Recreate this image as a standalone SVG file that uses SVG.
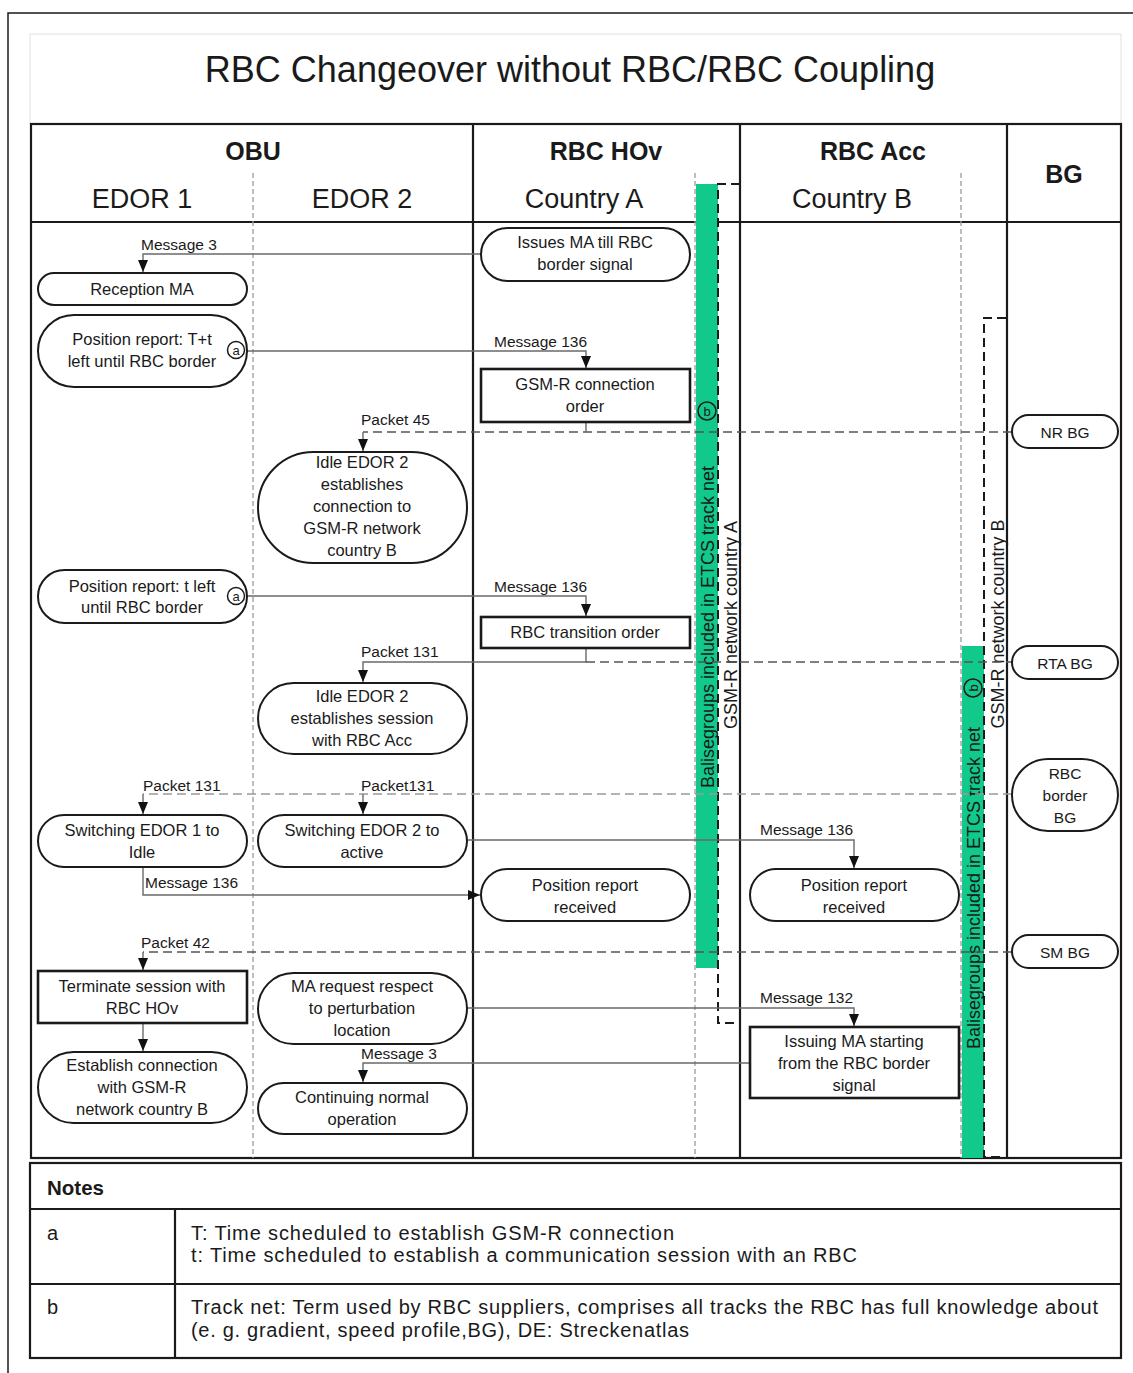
<svg xmlns="http://www.w3.org/2000/svg" width="1133" height="1373" viewBox="0 0 1133 1373">
<style>
text{font-family:"Liberation Sans",Arial,sans-serif;fill:#1a1a1a}
.title{font-size:36px;text-anchor:middle}
.hb{font-size:25px;font-weight:bold;text-anchor:middle}
.hr{font-size:27px;text-anchor:middle}
.nt{font-size:16.5px;text-anchor:middle}
.bgt{font-size:15.5px;text-anchor:middle}
.lb{font-size:15.5px}
.vt{font-size:18px;text-anchor:middle}
.note{font-size:20px}
.noteh{font-size:20.5px;font-weight:bold}
.ci{font-size:13px;text-anchor:middle}
.grid{fill:none;stroke:#1a1a1a;stroke-width:2.2}
.lane{fill:none;stroke:#9a9a9a;stroke-width:1.3;stroke-dasharray:5 3}
.green{fill:#10c98a}
.brk{fill:none;stroke:#1a1a1a;stroke-width:2;stroke-dasharray:9 5}
.pill{fill:#fff;stroke:#1a1a1a;stroke-width:2}
.box{fill:#fff;stroke:#1a1a1a;stroke-width:2.6}
.msg{fill:none;stroke:#6a6a6a;stroke-width:1.4}
.bgd{fill:none;stroke:#555;stroke-width:1.6;stroke-dasharray:9 5}
.bgl{fill:none;stroke:#9a9a9a;stroke-width:1.6;stroke-dasharray:9 5}
.circ{fill:#fff;stroke:#1a1a1a;stroke-width:1.5}
.circg{fill:none;stroke:#1a1a1a;stroke-width:1.5}
</style>
<defs>
<marker id="ah" markerWidth="12" markerHeight="10" refX="12" refY="5" orient="auto" markerUnits="userSpaceOnUse">
<path d="M0,0 L12,5 L0,10 z" fill="#111"/>
</marker>
</defs>
<rect width="1133" height="1373" fill="#fff"/>
<path d="M8,1373 V13 H1133" fill="none" stroke="#1a1a1a" stroke-width="1.5"/>

<g id="title">
<rect x="30" y="34" width="1091" height="90" fill="none" stroke="#e2e2e2" stroke-width="1"/>
<text class="title" x="570" y="82">RBC Changeover without RBC/RBC Coupling</text>
</g>

<g id="swimlanes">
<rect class="grid" x="31" y="124" width="1090" height="1034"/>
<path class="grid" d="M31,222 H1121 M473,124 V1158 M740,124 V1158 M1007,124 V1158"/>
<path class="lane" d="M253,173 V1158 M695,173 V1158 M961,173 V1158"/>
<text class="hb" x="253" y="160">OBU</text>
<text class="hb" x="606" y="160">RBC HOv</text>
<text class="hb" x="873" y="160">RBC Acc</text>
<text class="hb" x="1064" y="183">BG</text>
<text class="hr" x="142" y="208">EDOR 1</text>
<text class="hr" x="362" y="208">EDOR 2</text>
<text class="hr" x="584" y="208">Country A</text>
<text class="hr" x="852" y="208">Country B</text>
</g>

<g id="trackNetA">
<rect class="green" x="696" y="184" width="22" height="784"/>
<text class="vt" transform="translate(714,627) rotate(-90)">Balisegroups included in ETCS track net</text>
<circle class="circg" cx="707" cy="411" r="9"/>
<text class="ci" x="707" y="415.5">b</text>
</g>
<g id="gsmrA">
<path class="brk" d="M740,184 H718 V1023 H737"/>
<text class="vt" transform="translate(737,625) rotate(-90)">GSM-R network country A</text>
</g>
<g id="trackNetB">
<rect class="green" x="962" y="646" width="22" height="512"/>
<text class="vt" transform="translate(980,888) rotate(-90)">Balisegroups included in ETCS track net</text>
<circle class="circg" cx="973" cy="688" r="9"/>
<text class="ci" transform="translate(977.5,688) rotate(-90)">b</text>
</g>
<g id="gsmrB">
<path class="brk" d="M1006,318 H984 V1157 H1004"/>
<text class="vt" transform="translate(1004,624) rotate(-90)">GSM-R network country B</text>
</g>

<g id="connectors">
<path class="msg" d="M481,254 H143 V272" marker-end="url(#ah)"/>
<text class="lb" x="141" y="250">Message 3</text>
<path class="msg" d="M245,351 H586 V368" marker-end="url(#ah)"/>
<text class="lb" x="494" y="347">Message 136</text>
<path class="msg" d="M245,596 H586 V616" marker-end="url(#ah)"/>
<text class="lb" x="494" y="592">Message 136</text>
<path class="bgd" d="M1012,432 H363"/>
<path class="msg" d="M586,422 V432"/>
<path class="msg" d="M363,432 V451" marker-end="url(#ah)"/>
<text class="lb" x="361" y="425">Packet 45</text>
<path class="msg" d="M586,648 V662 H363 V682" marker-end="url(#ah)"/>
<path class="bgd" d="M586,662 H1012"/>
<text class="lb" x="361" y="657">Packet 131</text>
<path class="bgl" d="M1012,794 H143"/>
<path class="msg" d="M143,794 V814" marker-end="url(#ah)"/>
<path class="msg" d="M363,794 V814" marker-end="url(#ah)"/>
<text class="lb" x="143" y="791">Packet 131</text>
<text class="lb" x="361" y="791">Packet131</text>
<path class="msg" d="M467,840 H854 V868" marker-end="url(#ah)"/>
<text class="lb" x="760" y="835">Message 136</text>
<path class="msg" d="M143,867 V895 H480" marker-end="url(#ah)"/>
<text class="lb" x="145" y="888">Message 136</text>
<path class="bgd" d="M1012,952 H143"/>
<path class="msg" d="M143,952 V970" marker-end="url(#ah)"/>
<text class="lb" x="141" y="948">Packet 42</text>
<path class="msg" stroke="#333" d="M143,1023 V1051" marker-end="url(#ah)"/>
<path class="msg" d="M467,1008 H854 V1026" marker-end="url(#ah)"/>
<text class="lb" x="760" y="1003">Message 132</text>
<path class="msg" d="M750,1063 H363 V1082" marker-end="url(#ah)"/>
<text class="lb" x="361" y="1059">Message 3</text>
</g>

<g id="n-reception-ma">
<rect class="pill" x="38" y="273" width="209" height="32" rx="16"/>
<text class="nt" x="142" y="295">Reception MA</text>
</g>
<g id="n-pos-report-Tt">
<rect class="pill" x="38" y="315" width="209" height="72" rx="36"/>
<text class="nt" x="142" y="345">Position report: T+t</text>
<text class="nt" x="142" y="367">left until RBC border</text>
<circle class="circ" cx="236" cy="350" r="8.5"/>
<text class="ci" x="236" y="354.5">a</text>
</g>
<g id="n-pos-report-t">
<rect class="pill" x="38" y="570" width="209" height="53" rx="26.5"/>
<text class="nt" x="142" y="592">Position report: t left</text>
<text class="nt" x="142" y="613">until RBC border</text>
<circle class="circ" cx="236" cy="596" r="8.5"/>
<text class="ci" x="236" y="600.5">a</text>
</g>
<g id="n-switch-edor1">
<rect class="pill" x="38" y="815" width="209" height="52" rx="26"/>
<text class="nt" x="142" y="836">Switching EDOR 1 to</text>
<text class="nt" x="142" y="858">Idle</text>
</g>
<g id="n-terminate">
<rect class="box" x="38" y="971" width="209" height="52"/>
<text class="nt" x="142" y="992">Terminate session with</text>
<text class="nt" x="142" y="1014">RBC HOv</text>
</g>
<g id="n-establish">
<rect class="pill" x="38" y="1052" width="209" height="71" rx="35.5"/>
<text class="nt" x="142" y="1071">Establish connection</text>
<text class="nt" x="142" y="1093">with GSM-R</text>
<text class="nt" x="142" y="1115">network country B</text>
</g>
<g id="n-idle-conn">
<rect class="pill" x="258" y="452" width="209" height="111" rx="55.5"/>
<text class="nt" x="362" y="468">Idle EDOR 2</text>
<text class="nt" x="362" y="490">establishes</text>
<text class="nt" x="362" y="512">connection to</text>
<text class="nt" x="362" y="534">GSM-R network</text>
<text class="nt" x="362" y="556">country B</text>
</g>
<g id="n-idle-session">
<rect class="pill" x="258" y="683" width="209" height="71" rx="35.5"/>
<text class="nt" x="362" y="702">Idle EDOR 2</text>
<text class="nt" x="362" y="724">establishes session</text>
<text class="nt" x="362" y="746">with RBC Acc</text>
</g>
<g id="n-switch-edor2">
<rect class="pill" x="258" y="815" width="209" height="52" rx="26"/>
<text class="nt" x="362" y="836">Switching EDOR 2 to</text>
<text class="nt" x="362" y="858">active</text>
</g>
<g id="n-ma-request">
<rect class="pill" x="258" y="973" width="209" height="71" rx="35.5"/>
<text class="nt" x="362" y="992">MA request respect</text>
<text class="nt" x="362" y="1014">to perturbation</text>
<text class="nt" x="362" y="1036">location</text>
</g>
<g id="n-continuing">
<rect class="pill" x="258" y="1083" width="209" height="51" rx="25.5"/>
<text class="nt" x="362" y="1103">Continuing normal</text>
<text class="nt" x="362" y="1125">operation</text>
</g>
<g id="n-issues-ma">
<rect class="pill" x="481" y="228" width="209" height="53" rx="26.5"/>
<text class="nt" x="585" y="248">Issues MA till RBC</text>
<text class="nt" x="585" y="270">border signal</text>
</g>
<g id="n-gsmr-order">
<rect class="box" x="481" y="369" width="209" height="53"/>
<text class="nt" x="585" y="390">GSM-R connection</text>
<text class="nt" x="585" y="412">order</text>
</g>
<g id="n-rbc-transition">
<rect class="box" x="481" y="617" width="209" height="31"/>
<text class="nt" x="585" y="638">RBC transition order</text>
</g>
<g id="n-posrep-hov">
<rect class="pill" x="481" y="869" width="209" height="52" rx="26"/>
<text class="nt" x="585" y="891">Position report</text>
<text class="nt" x="585" y="913">received</text>
</g>
<g id="n-posrep-acc">
<rect class="pill" x="750" y="869" width="209" height="52" rx="26"/>
<text class="nt" x="854" y="891">Position report</text>
<text class="nt" x="854" y="913">received</text>
</g>
<g id="n-issuing-ma">
<rect class="box" x="750" y="1027" width="209" height="71" stroke-width="2"/>
<text class="nt" x="854" y="1047">Issuing MA starting</text>
<text class="nt" x="854" y="1069">from the RBC border</text>
<text class="nt" x="854" y="1091">signal</text>
</g>
<g id="n-nr-bg">
<rect class="pill" x="1012" y="415" width="106" height="33" rx="16.5"/>
<text class="bgt" x="1065" y="437.5">NR BG</text>
</g>
<g id="n-rta-bg">
<rect class="pill" x="1012" y="646" width="106" height="33" rx="16.5"/>
<text class="bgt" x="1065" y="668.5">RTA BG</text>
</g>
<g id="n-rbc-border-bg">
<rect class="pill" x="1012" y="759" width="106" height="72" rx="36"/>
<text class="bgt" x="1065" y="779">RBC</text>
<text class="bgt" x="1065" y="801">border</text>
<text class="bgt" x="1065" y="823">BG</text>
</g>
<g id="n-sm-bg">
<rect class="pill" x="1012" y="935" width="106" height="33" rx="16.5"/>
<text class="bgt" x="1065" y="957.5">SM BG</text>
</g>

<g id="notes">
<rect class="grid" x="30" y="1163" width="1091" height="195"/>
<path class="grid" d="M30,1209 H1121 M30,1284 H1121 M175,1209 V1358"/>
<text class="noteh" x="47" y="1195">Notes</text>
<text class="note" x="47" y="1240">a</text>
<text class="note" x="191" y="1240" textLength="483" lengthAdjust="spacing">T: Time scheduled to establish GSM-R connection</text>
<text class="note" x="191" y="1262" textLength="666" lengthAdjust="spacing">t: Time scheduled to establish a communication session with an RBC</text>
<text class="note" x="47" y="1314">b</text>
<text class="note" x="191" y="1314" textLength="907" lengthAdjust="spacing">Track net: Term used by RBC suppliers, comprises all tracks the RBC has full knowledge about</text>
<text class="note" x="191" y="1337" textLength="498" lengthAdjust="spacing">(e. g. gradient, speed profile,BG), DE: Streckenatlas</text>
</g>
</svg>
